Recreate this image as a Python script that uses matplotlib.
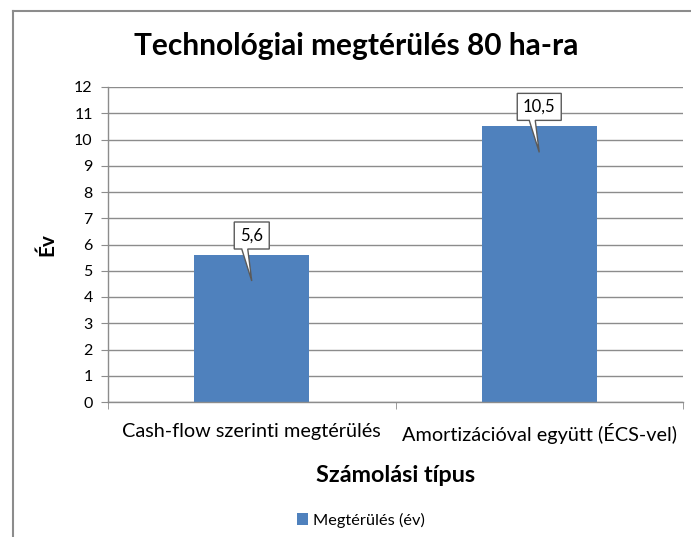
import matplotlib
matplotlib.use("Agg")
import matplotlib.pyplot as plt
import matplotlib.transforms as mtransforms
from matplotlib.patches import Polygon
from matplotlib.lines import Line2D

categories = ["Cash-flow szerinti megtérülés", "Amortizációval együtt (ÉCS-vel)"]
values = [5.6, 10.5]
value_labels = ["5,6", "10,5"]
yticks = list(range(0, 13))
title = "Technológiai megtérülés 80 ha-ra"
xlabel = "Számolási típus"
ylabel = "Év"
series_name = "Megtérülés (év)"

FONT = ["Lato", "DejaVu Sans"]
plt.rcParams['font.family'] = FONT

W, H = 691, 537
fig = plt.figure(figsize=(W / 100, H / 100), dpi=100)
ax = fig.add_axes([108 / W, 1 - 402 / H, (683 - 108) / W, (402 - 87) / H])

bar_color = "#4F81BD"
grid_color = "#8C8C8C"
x = list(range(len(categories)))
bars = ax.bar(x, values, width=0.4, color=bar_color, zorder=2, label=series_name)

ax.set_xlim(-0.5, len(categories) - 0.5)
ax.set_ylim(0, 12)
ax.set_yticks(yticks)
ax.set_yticklabels([str(t) for t in yticks], fontsize=11.5)
ax.yaxis.grid(True, color=grid_color, linewidth=1, zorder=0)
ax.set_axisbelow(True)
ax.tick_params(axis='y', length=5, color=grid_color, pad=6)

ax.set_xticks(x)
ax.set_xticklabels(categories, fontsize=14.3)
ax.set_xticks([i - 0.5 for i in range(len(categories) + 1)], minor=True)
ax.tick_params(axis='x', which='major', length=0, pad=15)
ax.tick_params(axis='x', which='minor', length=5, color=grid_color)

for s in ["top", "right"]:
    ax.spines[s].set_visible(False)
for s in ["left", "bottom"]:
    ax.spines[s].set_color(grid_color)
    ax.spines[s].set_linewidth(1)

fig.text(356 / W, 1 - 46 / H, title, fontsize=21.5, fontweight="bold",
         ha="center", va="center")
ax.set_xlabel(xlabel, fontsize=16.8, fontweight="bold", labelpad=15)
ax.set_ylabel(ylabel, fontsize=15, fontweight="bold", labelpad=12)

# callouts (pixel offsets relative to bar top)
for xi, v, lab in zip(x, values, value_labels):
    w = 9 * len(lab) + 8
    hw = w / 2
    verts = [(-hw, 6), (-10, 6), (0, -26), (-4, 6), (hw, 6), (hw, 33), (-hw, 33)]
    trans = mtransforms.Affine2D() + mtransforms.ScaledTranslation(xi, v, ax.transData)
    poly = Polygon(verts, closed=True, facecolor="white", edgecolor="#5A5A5A",
                   linewidth=1, transform=trans, zorder=5, clip_on=False)
    ax.add_patch(poly)
    ax.text(0, 19.5, lab, transform=trans, ha="center", va="center",
            fontsize=12, zorder=6)

# legend
leg = fig.legend(handles=[bars], labels=[series_name], loc="center",
                 bbox_to_anchor=(361 / W, 1 - 520 / H), frameon=False,
                 fontsize=11.8, handlelength=0.7, handleheight=0.7, handletextpad=0.3)

# chart frame
fig.add_artist(Line2D([13 / W, 13 / W], [0, 1 - 11 / H], color="#8C8C8C", linewidth=1.5,
                      transform=fig.transFigure))
fig.add_artist(Line2D([13 / W, 1], [1 - 11 / H, 1 - 11 / H], color="#8C8C8C", linewidth=1.5,
                      transform=fig.transFigure))

fig.savefig("out.png", dpi=100, facecolor="white")
